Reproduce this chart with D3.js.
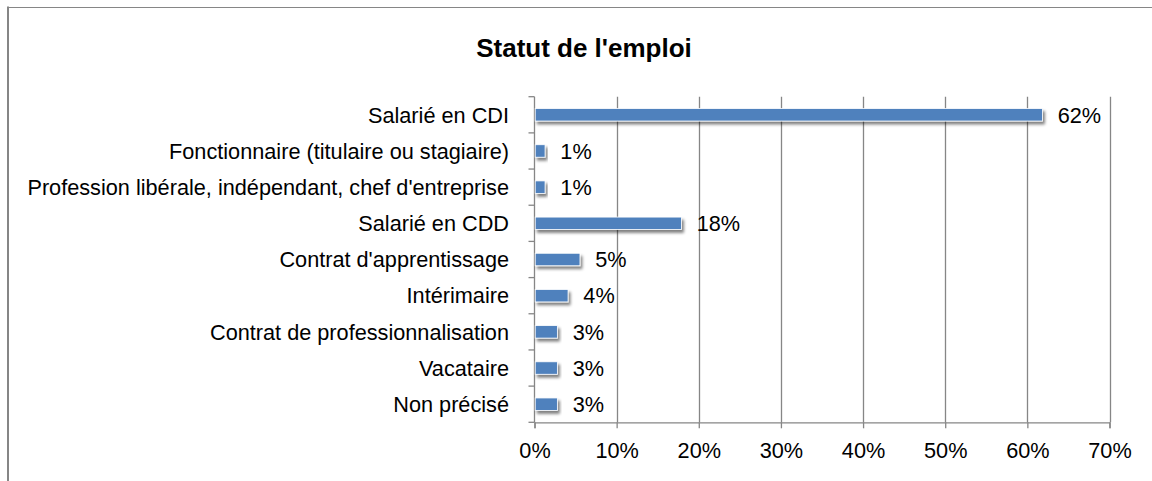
<!DOCTYPE html>
<html>
<head>
<meta charset="utf-8">
<script src="https://cdn.jsdelivr.net/npm/d3@7"></script>
<style>
  html, body { margin: 0; padding: 0; background: #fff; }
  svg { display: block; }
  text { font-family: "Liberation Sans", Arial, sans-serif; fill: #000; }
</style>
</head>
<body>
<svg id="chart" width="1152" height="481"></svg>
<script>
const title = "Statut de l'emploi";
const categories = [
  "Salarié en CDI",
  "Fonctionnaire (titulaire ou stagiaire)",
  "Profession libérale, indépendant, chef d'entreprise",
  "Salarié en CDD",
  "Contrat d'apprentissage",
  "Intérimaire",
  "Contrat de professionnalisation",
  "Vacataire",
  "Non précisé"
];
const values = [61.75, 1.2, 1.2, 17.8, 5.45, 4.0, 2.7, 2.7, 2.7];
const valueLabels = ["62%", "1%", "1%", "18%", "5%", "4%", "3%", "3%", "3%"];
const xTicks = [0, 10, 20, 30, 40, 50, 60, 70];

const svg = d3.select("#chart");
const W = 1152, H = 481;
const m = { left: 534.5, right: 1109.5, top: 96.7, bottom: 422.3 };
const axisColor = "#868686";
const barColor = "#4F81BD";
const fs = "21.7px";

// outer frame (only left and top visible)
svg.append("line").attr("x1", 8).attr("x2", 8).attr("y1", 6.5).attr("y2", H)
  .attr("stroke", axisColor).attr("stroke-width", 2);
svg.append("line").attr("x1", 7).attr("x2", W).attr("y1", 7.5).attr("y2", 7.5)
  .attr("stroke", axisColor).attr("stroke-width", 1.2);

const defs = svg.append("defs");
const f = defs.append("filter").attr("id", "shadow")
  .attr("x", "-20%").attr("y", "-50%").attr("width", "140%").attr("height", "250%");
f.append("feGaussianBlur").attr("in", "SourceAlpha").attr("stdDeviation", 1.6).attr("result", "blur");
f.append("feOffset").attr("in", "blur").attr("dx", 2).attr("dy", 2.5).attr("result", "off");
f.append("feComponentTransfer").attr("in", "off").attr("result", "soft")
  .append("feFuncA").attr("type", "linear").attr("slope", 0.5);
const merge = f.append("feMerge");
merge.append("feMergeNode").attr("in", "soft");
merge.append("feMergeNode").attr("in", "SourceGraphic");

const x = d3.scaleLinear().domain([0, 70]).range([m.left, m.right]);
const y = d3.scaleBand().domain(categories).range([m.top, m.bottom]).paddingInner(0.655).paddingOuter(0.3275);
const yb = d3.scaleBand().domain(categories).range([m.top, m.bottom]);

// title
svg.append("text").attr("x", 584).attr("y", 57).attr("text-anchor", "middle")
  .style("font-size", "26px").style("font-weight", "bold").text(title);

// gridlines
svg.append("g").selectAll("line").data(xTicks.slice(1)).join("line")
  .attr("x1", d => Math.round(x(d)) + 0.5).attr("x2", d => Math.round(x(d)) + 0.5)
  .attr("y1", m.top).attr("y2", m.bottom)
  .attr("stroke", axisColor).attr("stroke-width", 1.3);

// x axis
const xAxis = svg.append("g").attr("transform", `translate(0,${m.bottom})`)
  .call(d3.axisBottom(x).tickValues(xTicks).tickFormat(d => d + "%").tickSize(6).tickPadding(14));
xAxis.select(".domain").attr("stroke", axisColor).attr("stroke-width", 1.3);
xAxis.selectAll(".tick line").attr("stroke", axisColor).attr("stroke-width", 1.3);
xAxis.selectAll(".tick text").style("font-size", fs).style("font-family", null).attr("fill", "#000");

// y axis line + boundary ticks
svg.append("line").attr("x1", m.left).attr("x2", m.left).attr("y1", m.top).attr("y2", m.bottom)
  .attr("stroke", axisColor).attr("stroke-width", 1.3);
const bounds = categories.map(c => yb(c)).concat([m.bottom]);
svg.append("g").selectAll("line").data(bounds).join("line")
  .attr("x1", m.left - 6).attr("x2", m.left).attr("y1", d => d).attr("y2", d => d)
  .attr("stroke", axisColor).attr("stroke-width", 1.3);

// category labels
svg.append("g").selectAll("text").data(categories).join("text")
  .attr("x", 509).attr("y", d => yb(d) + yb.bandwidth() / 2).attr("dy", "0.36em")
  .attr("text-anchor", "end").style("font-size", fs).text(d => d);

// bars
svg.append("g").selectAll("rect").data(values).join("rect")
  .attr("x", x(0) + 0.7).attr("y", (d, i) => y(categories[i]))
  .attr("width", d => x(d) - x(0)).attr("height", y.bandwidth())
  .attr("fill", barColor).attr("stroke", "#fff").attr("stroke-width", 0.8)
  .attr("filter", "url(#shadow)");

// value labels
svg.append("g").selectAll("text").data(values).join("text")
  .attr("x", d => x(d) + 16).attr("y", (d, i) => yb(categories[i]) + yb.bandwidth() / 2).attr("dy", "0.36em")
  .style("font-size", fs).text((d, i) => valueLabels[i]);
</script>
</body>
</html>
